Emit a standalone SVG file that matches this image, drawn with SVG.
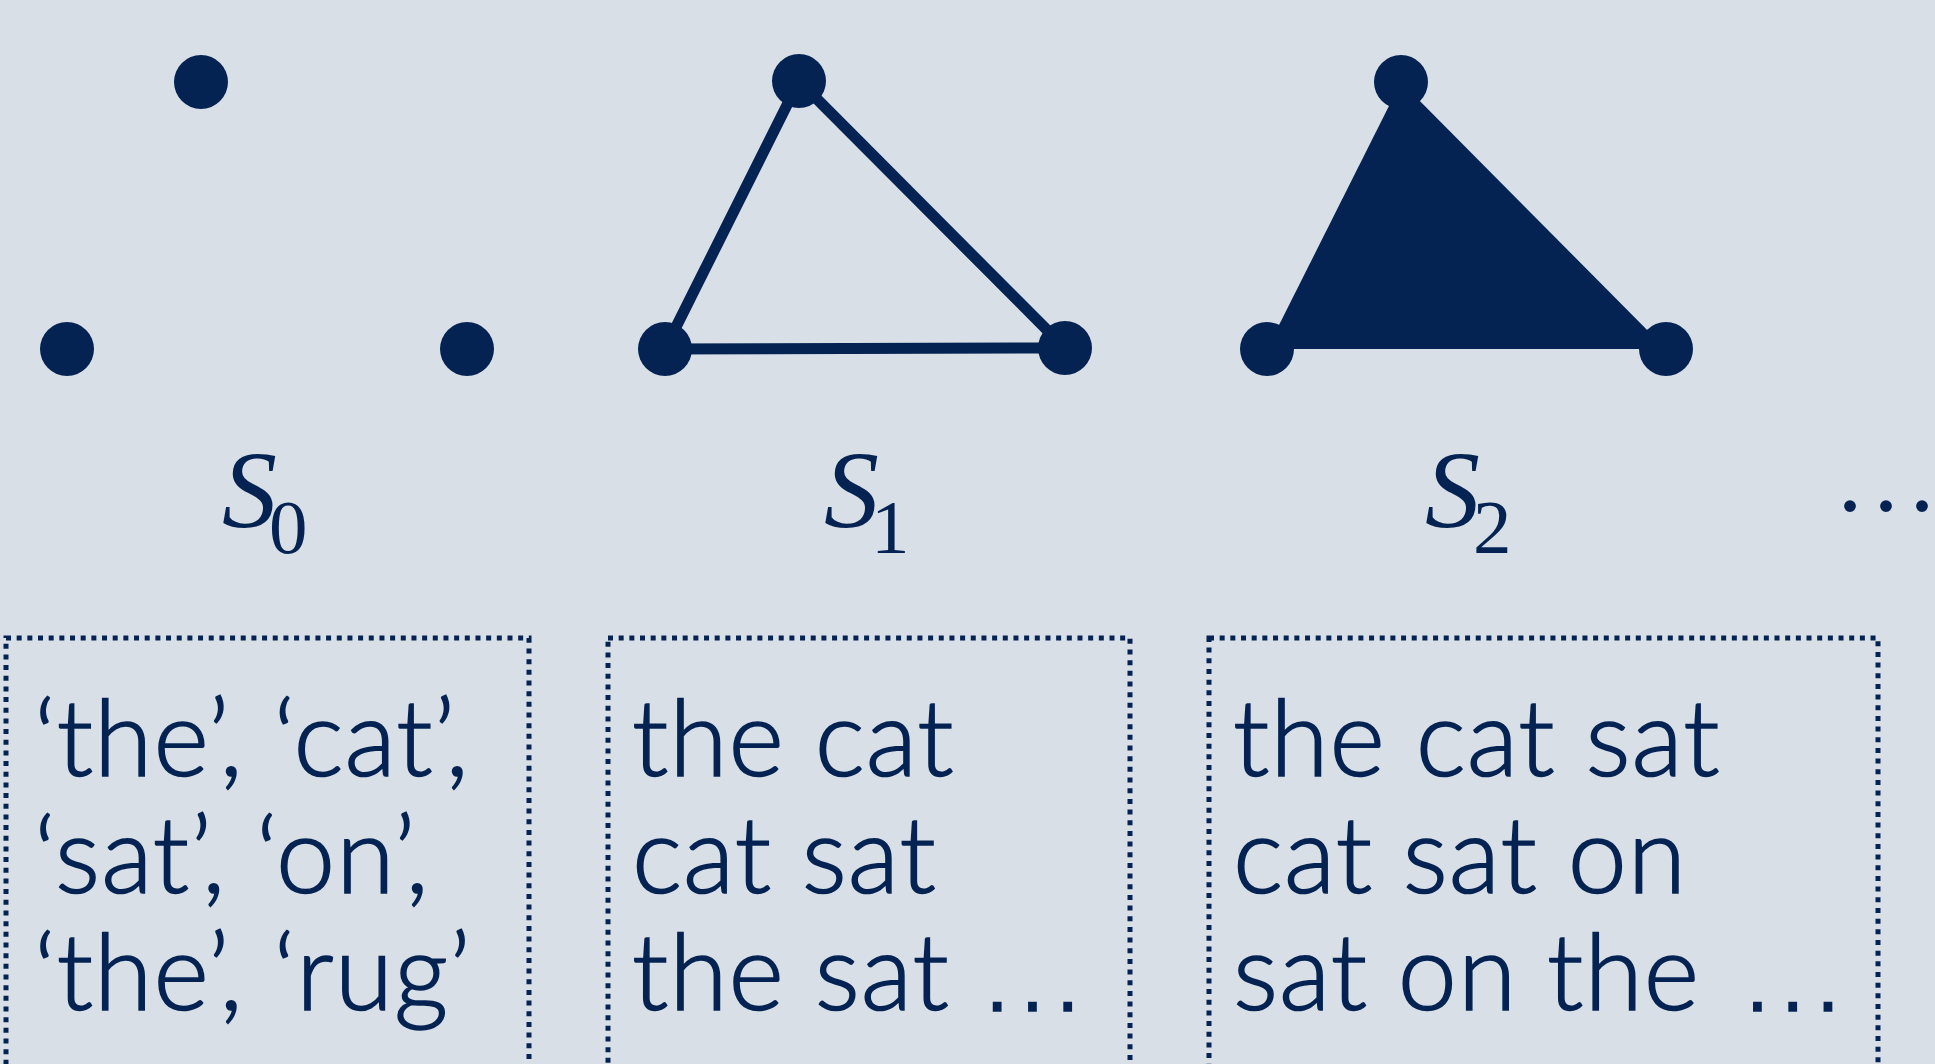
<svg xmlns="http://www.w3.org/2000/svg" width="1935" height="1064" viewBox="0 0 1935 1064">
<style>
.bg{fill:#D8DFE7}
.dot{fill:#042352}
.edge{stroke:#042352;stroke-width:11;fill:none}
.face{fill:#042352}
.lab{font-family:"Liberation Serif",serif;fill:#042352}
.it{font-style:italic;font-size:110px}
.sub{font-size:77px}
.box{fill:none;stroke:#042352;stroke-width:5;stroke-dasharray:5 5.67}
.txt{font-family:Lato,"Open Sans",sans-serif;font-size:106px;font-weight:300;letter-spacing:1px;fill:#042352;stroke:#042352;stroke-width:1.6}
.ell{font-family:"DejaVu Sans",sans-serif;stroke-width:3.5;letter-spacing:0}
</style>
<rect class="bg" x="0" y="0" width="1935" height="1064"/>
<g id="connectors">
  <line class="edge" x1="799" y1="81" x2="665" y2="349"/>
  <line class="edge" x1="799" y1="81" x2="1065" y2="348"/>
  <line class="edge" x1="665" y1="349" x2="1065" y2="348"/>
  <polygon class="face" points="1401,82 1267,349 1666,349"/>
</g>
<g id="s0">
  <circle class="dot" cx="201" cy="82" r="27"/>
  <circle class="dot" cx="67" cy="349" r="27"/>
  <circle class="dot" cx="467" cy="349" r="27"/>
  <text class="lab" x="222" y="527"><tspan class="it">S</tspan><tspan class="sub" x="269" y="553">0</tspan></text>
</g>
<g id="s1">
  <circle class="dot" cx="799" cy="81" r="27"/>
  <circle class="dot" cx="665" cy="349" r="27"/>
  <circle class="dot" cx="1065" cy="348" r="27"/>
  <text class="lab" x="824" y="527"><tspan class="it">S</tspan><tspan class="sub" x="871" y="553">1</tspan></text>
</g>
<g id="s2">
  <circle class="dot" cx="1401" cy="82" r="27"/>
  <circle class="dot" cx="1267" cy="349" r="27"/>
  <circle class="dot" cx="1666" cy="349" r="27"/>
  <text class="lab" x="1425" y="527"><tspan class="it">S</tspan><tspan class="sub" x="1473" y="553">2</tspan></text>
</g>
<g id="ellipsis">
  <text class="lab" x="1850 1886 1922" y="511" font-size="100" text-anchor="middle">...</text>
</g>
<g id="box0">
  <rect class="box" x="6" y="638" width="523" height="480"/>
  <text class="txt" x="34" y="776">‘the’, ‘cat’,</text>
  <text class="txt" x="34" y="893">‘sat’, ‘on’,</text>
  <text class="txt" x="34" y="1010">‘the’, ‘rug’</text>
</g>
<g id="box1">
  <rect class="box" x="608" y="638" width="522" height="480"/>
  <text class="txt" x="632" y="776">the cat</text>
  <text class="txt" x="632" y="893">cat sat</text>
  <text class="txt" x="632" y="1010">the sat <tspan class="ell">…</tspan></text>
</g>
<g id="box2">
  <rect class="box" x="1209" y="638" width="669" height="480"/>
  <text class="txt" x="1233" y="776">the cat sat</text>
  <text class="txt" x="1233" y="893">cat sat on</text>
  <text class="txt" x="1233" y="1010">sat on the <tspan class="ell" dx="10">…</tspan></text>
</g>
</svg>
